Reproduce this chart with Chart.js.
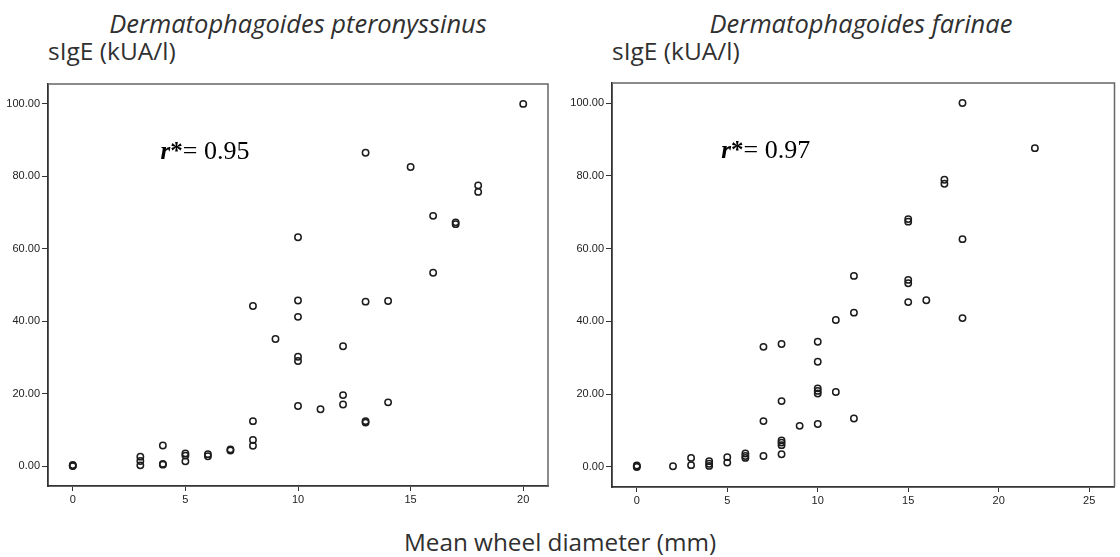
<!DOCTYPE html>
<html>
<head>
<meta charset="utf-8">
<script src="https://cdn.jsdelivr.net/npm/chart.js@4.4.1/dist/chart.umd.min.js"></script>
<style>
  body{margin:0;width:1120px;height:557px;background:#fff;position:relative;overflow:hidden;
       font-family:"Open Sans",sans-serif;color:#303030}
  .t{position:absolute;white-space:nowrap;font-size:24px;line-height:24px}
  .c{text-align:center}
  canvas{position:absolute;top:0}
</style>
</head>
<body>
<div class="t c" style="left:98px;width:400px;top:11px;font-style:italic;font-size:25.5px">Dermatophagoides pteronyssinus</div>
<div class="t" style="left:48px;top:39px;font-size:24.5px">sIgE (kUA/l)</div>
<div class="t c" style="left:661px;width:400px;top:11px;font-style:italic;font-size:25.5px">Dermatophagoides farinae</div>
<div class="t" style="left:612px;top:39px;font-size:24.5px">sIgE (kUA/l)</div>
<div class="t c" style="left:310px;width:500px;top:530px;font-size:24.3px">Mean wheel diameter (mm)</div>

<canvas id="left" width="560" height="557" style="left:0"></canvas>
<canvas id="right" width="560" height="557" style="left:560px"></canvas>

<script>
// Dermatophagoides pteronyssinus: wheel diameter (mm) vs sIgE (kUA/l)
const ptX = [0,0,0,3,3,3,4,4,4,5,5,5,6,6,7,7,8,8,8,8,9,10,10,10,10,10,10,11,12,12,12,13,13,13,13,14,14,15,16,16,17,17,18,18,20]
const ptY = [0,0.1,0.3,0.2,1.4,2.6,0.4,0.6,5.7,1.3,2.9,3.5,2.7,3.3,4.3,4.6,5.6,7.2,12.4,44.2,35.1,16.6,29.0,30.2,41.2,45.7,63.2,15.7,17.0,19.6,33.1,12.0,12.4,45.4,86.5,17.6,45.6,82.6,53.4,69.1,66.8,67.3,75.7,77.5,100]

// Dermatophagoides farinae
const faX = [0,0,0,2,3,3,4,4,4,5,5,6,6,6,7,7,7,8,8,8,8,8,8,9,10,10,10,10,10,10,11,11,12,12,12,15,15,15,15,15,16,17,17,18,18,18,22]
const faY = [0,0.2,0.4,0.2,0.5,2.5,0.3,0.9,1.6,1.2,2.7,2.5,3.0,3.7,3.0,12.6,33.0,3.5,6.0,6.7,7.3,18.1,33.8,11.3,11.8,20.2,20.9,21.6,28.9,34.4,20.6,40.4,13.3,42.4,52.5,45.3,50.5,51.4,67.4,68.1,45.8,77.8,78.9,40.9,62.6,100,87.6]

const yTicks = [0,20,40,60,80,100]
const ptXTicks = [0,5,10,15,20]
const faXTicks = [0,5,10,15,20,25]
const ptR = '0.95'
const faR = '0.97'

// top + right lines of the box, and the r* label
const boxAndLabel = {
  id: 'boxAndLabel',
  beforeDatasetsDraw(chart, args, opts) {
    const a = chart.chartArea, ctx = chart.ctx
    ctx.save()
    ctx.strokeStyle = '#666'
    ctx.lineWidth = 1.5
    ctx.beginPath()
    ctx.moveTo(a.left, a.top); ctx.lineTo(a.right, a.top); ctx.lineTo(a.right, a.bottom)
    ctx.stroke()
    ctx.restore()
  },
  afterDraw(chart, args, opts) {
    const ctx = chart.ctx
    let x = chart.scales.x.getPixelForValue(opts.at[0])
    const y = chart.scales.y.getPixelForValue(opts.at[1])
    ctx.save()
    ctx.fillStyle = '#000'
    ctx.textBaseline = 'alphabetic'
    ctx.font = 'italic bold 25px "Liberation Serif"'
    ctx.fillText('r', x, y)
    x += ctx.measureText('r').width
    ctx.font = 'bold 25px "Liberation Serif"'
    ctx.fillText('*', x, y)
    x += ctx.measureText('*').width
    ctx.font = '26px "Liberation Serif"'
    ctx.fillText('= ' + opts.text, x, y)
    ctx.restore()
  }
}

function scatter(canvas, xs, ys, o) {
  const tickStyle = {drawOnChartArea:false, drawTicks:true, tickLength:6, color:'#333', lineWidth:1}
  return new Chart(canvas, {
    type: 'scatter',
    data: {
      datasets: [{
        data: xs.map((x, i) => ({x: x, y: ys[i]})),
        pointStyle: 'circle',
        pointRadius: 3.2,
        borderWidth: 1.5,
        borderColor: '#1c1c1c',
        backgroundColor: 'rgba(0,0,0,0)'
      }]
    },
    options: {
      responsive: false,
      animation: false,
      events: [],
      layout: {padding: {top: o.top, right: o.right, left: 0, bottom: 0}},
      plugins: {
        legend: {display: false},
        tooltip: {enabled: false},
        boxAndLabel: {at: o.labelAt, text: o.r}
      },
      scales: {
        x: {
          type: 'linear', min: o.xMin, max: o.xMax,
          afterBuildTicks: s => { s.ticks = o.xTicks.map(v => ({value: v})) },
          afterFit: s => { s.height = o.xH },
          grid: Object.assign({}, tickStyle, {tickLength: 5}),
          border: {display: true, color: '#333', width: 1.8},
          ticks: {color: '#222', padding: 2, font: {family: '"Liberation Sans"', size: 11}}
        },
        y: {
          type: 'linear', min: -5.5, max: 105.5,
          afterBuildTicks: s => { s.ticks = yTicks.map(v => ({value: v})) },
          afterFit: s => { s.width = o.yW },
          grid: tickStyle,
          border: {display: true, color: '#333', width: 1.8},
          ticks: {color: '#222', padding: 2, font: {family: '"Liberation Sans"', size: 11},
                  callback: v => v.toFixed(2)}
        }
      }
    },
    plugins: [boxAndLabel]
  })
}

scatter(document.getElementById('left'), ptX, ptY, {
  xMin: -1.1, xMax: 21.1, xTicks: ptXTicks, top: 84, right: 12, xH: 71, yW: 48,
  labelAt: [3.9, 84.8], r: ptR
})
scatter(document.getElementById('right'), faX, faY, {
  xMin: -1.37, xMax: 26.4, xTicks: faXTicks, top: 83, right: 3, xH: 70, yW: 52,
  labelAt: [4.67, 84.8], r: faR
})
</script>
</body>
</html>
